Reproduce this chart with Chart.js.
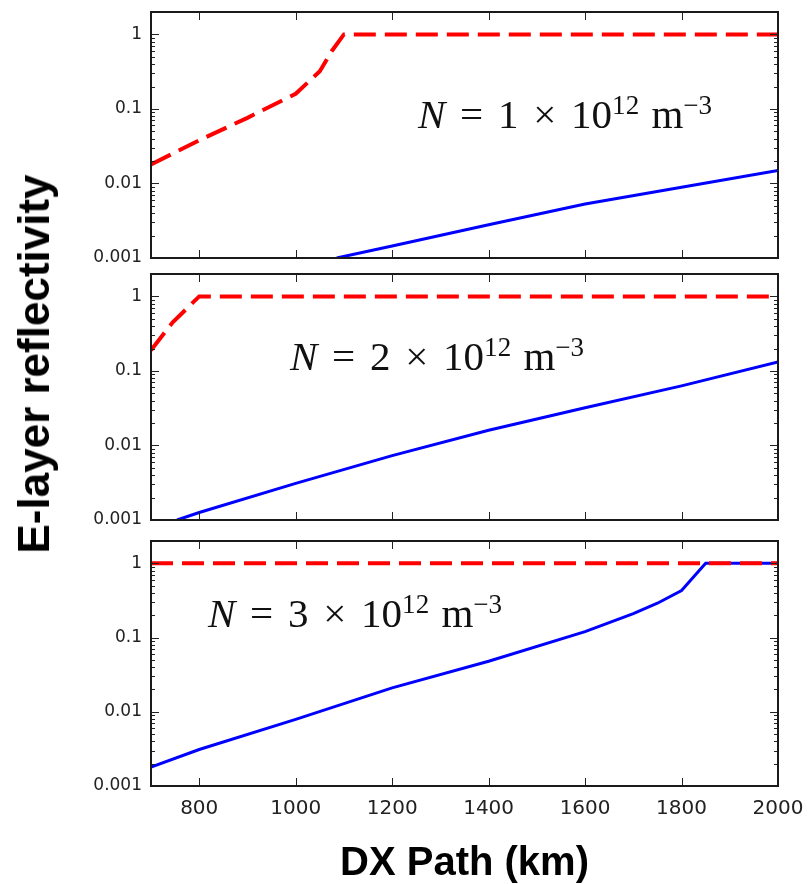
<!DOCTYPE html>
<html>
<head>
<meta charset="utf-8">
<script src="https://cdn.jsdelivr.net/npm/chart.js@4.4.1/dist/chart.umd.min.js"></script>
<style>
	html, body { margin: 0; padding: 0; background: #fff; }
	#wrap { position: relative; width: 810px; height: 884px; overflow: hidden; }
	canvas { position: absolute; left: 0; }
	.note {
		position: absolute; white-space: nowrap; line-height: 1;
		font-family: 'Liberation Serif', 'DejaVu Serif', serif; font-size: 41px; color: #111;
	}
	.note sup { font-size: 0.66em; vertical-align: baseline; position: relative; top: -0.52em; }
	.note .op { margin: 0 0.36em; }
	.note .u { margin-left: 0.3em; }
	#ytitle {
		position: absolute; left: 34px; top: 364px; white-space: nowrap;
		font: bold 44px 'Liberation Sans', Arial, sans-serif; color: #000;
		transform: translate(-50%, -50%) rotate(-90deg);
	}
</style>
</head>
<body>
<div id="wrap">
	<canvas id="panel1" width="810" height="270" style="top:0px"></canvas>
	<canvas id="panel2" width="810" height="270" style="top:262px"></canvas>
	<canvas id="panel3" width="810" height="355" style="top:529px"></canvas>
	<div class="note" style="left:418px; top:94px"><i>N</i><span class="op">=</span>1<span class="op">×</span>10<sup>12</sup><span class="u">m</span><sup>−3</sup></div>
	<div class="note" style="left:290px; top:336px"><i>N</i><span class="op">=</span>2<span class="op">×</span>10<sup>12</sup><span class="u">m</span><sup>−3</sup></div>
	<div class="note" style="left:208px; top:593px"><i>N</i><span class="op">=</span>3<span class="op">×</span>10<sup>12</sup><span class="u">m</span><sup>−3</sup></div>
	<div id="ytitle">E-layer reflectivity</div>
</div>
<script>
const xTicks = [800, 1000, 1200, 1400, 1600, 1800, 2000];
const yMajorTicks = [0.001, 0.01, 0.1, 1];
const yTickLabels = ['0.001', '0.01', '0.1', '1'];
const yMinorSteps = [2, 3, 4, 5, 6, 7, 8, 9];

// N = 1e12
const p1RedX = [700, 800, 900, 1000, 1050, 1075, 1100, 2000];
const p1RedY = [0.018, 0.038, 0.076, 0.16, 0.32, 0.6, 1, 1];
const p1BlueX = [1085, 1200, 1400, 1600, 1800, 2000];
const p1BlueY = [0.001, 0.00145, 0.0028, 0.0053, 0.0089, 0.015];

// N = 2e12
const p2RedX = [700, 745, 800, 2000];
const p2RedY = [0.19, 0.45, 1, 1];
const p2BlueX = [754, 800, 1000, 1200, 1400, 1600, 1800, 2000];
const p2BlueY = [0.001, 0.00126, 0.0031, 0.0073, 0.016, 0.032, 0.063, 0.132];

// N = 3e12
const p3RedX = [700, 2000];
const p3RedY = [1, 1];
const p3BlueX = [700, 800, 1000, 1200, 1400, 1600, 1700, 1750, 1800, 1850, 2000];
const p3BlueY = [0.0018, 0.0031, 0.0079, 0.021, 0.048, 0.12, 0.21, 0.29, 0.43, 1, 1];

const pts = (xs, ys) => xs.map((x, i) => ({x: x, y: ys[i]}));

const yTickValues = [];
yMajorTicks.forEach(m => {
	yTickValues.push({value: m, major: true});
	if (m < 1) yMinorSteps.forEach(s => yTickValues.push({value: +(m * s).toPrecision(3), major: false}));
});
yTickValues.push({value: 2, major: false});

// matplotlib style box with inward ticks
const framePlugin = {
	id: 'frame',
	afterDatasetsDraw(chart) {
		const {ctx, chartArea: a, scales: {x, y}} = chart;
		ctx.save();
		ctx.strokeStyle = '#222';
		ctx.lineWidth = 1;
		ctx.beginPath();
		y.ticks.forEach(t => {
			const py = Math.round(y.getPixelForValue(t.value)) + 0.5;
			const len = t.major ? 8 : 4;
			ctx.moveTo(a.left, py); ctx.lineTo(a.left + len, py);
			ctx.moveTo(a.right, py); ctx.lineTo(a.right - len, py);
		});
		x.ticks.forEach(t => {
			const px = Math.round(x.getPixelForValue(t.value)) + 0.5;
			ctx.moveTo(px, a.top); ctx.lineTo(px, a.top + 8);
			ctx.moveTo(px, a.bottom); ctx.lineTo(px, a.bottom - 8);
		});
		ctx.stroke();
		ctx.lineWidth = 2;
		ctx.strokeStyle = '#1a1a1a';
		ctx.strokeRect(a.left, a.top, a.right - a.left, a.bottom - a.top);
		ctx.restore();
	}
};

function makePanel(id, redX, redY, blueX, blueY, bottom) {
	return new Chart(document.getElementById(id), {
		type: 'line',
		data: {
			datasets: [
				{
					data: pts(redX, redY),
					borderColor: '#ff0000',
					borderWidth: 4,
					borderDash: [22, 9],
				},
				{
					data: pts(blueX, blueY),
					borderColor: '#0000ff',
					borderWidth: 3,
				},
			],
		},
		options: {
			responsive: false,
			animation: false,
			layout: {padding: {top: 12, right: 32, left: 0, bottom: 0}},
			elements: {point: {radius: 0}, line: {tension: 0, borderCapStyle: 'butt'}},
			plugins: {legend: {display: false}, tooltip: {enabled: false}},
			scales: {
				x: {
					type: 'linear',
					min: 700,
					max: 2000,
					grid: {display: false, drawTicks: false},
					border: {display: false},
					afterBuildTicks: s => { s.ticks = xTicks.map(v => ({value: v})); },
					afterFit: s => { s.height = bottom ? 98 : 12; s.paddingLeft = 0; s.paddingRight = 0; },
					ticks: {
						display: bottom,
						autoSkip: false,
						maxRotation: 0,
						padding: 11,
						color: '#222',
						font: {family: "'DejaVu Sans', sans-serif", size: 20},
						callback: v => String(v),
					},
					title: {
						display: bottom,
						text: 'DX Path (km)',
						color: '#000',
						padding: {top: 0, bottom: 0},
						font: {family: "'Liberation Sans', Arial, sans-serif", size: 40, weight: 'bold', lineHeight: 1.0},
					},
				},
				y: {
					type: 'logarithmic',
					min: 0.001,
					max: 2,
					grid: {display: false, drawTicks: false},
					border: {display: false},
					afterBuildTicks: s => { s.ticks = yTickValues.map(t => ({value: t.value, major: t.major})); },
					afterFit: s => { s.width = 151; s.paddingTop = 0; s.paddingBottom = 0; },
					ticks: {
						autoSkip: false,
						padding: 9,
						color: '#222',
						font: {family: "'DejaVu Sans', sans-serif", size: 17},
						callback: v => {
							const i = yMajorTicks.indexOf(v);
							return i >= 0 ? yTickLabels[i] : '';
						},
					},
				},
			},
		},
		plugins: [framePlugin],
	});
}

makePanel('panel1', p1RedX, p1RedY, p1BlueX, p1BlueY, false);
makePanel('panel2', p2RedX, p2RedY, p2BlueX, p2BlueY, false);
makePanel('panel3', p3RedX, p3RedY, p3BlueX, p3BlueY, true);
</script>
</body>
</html>
